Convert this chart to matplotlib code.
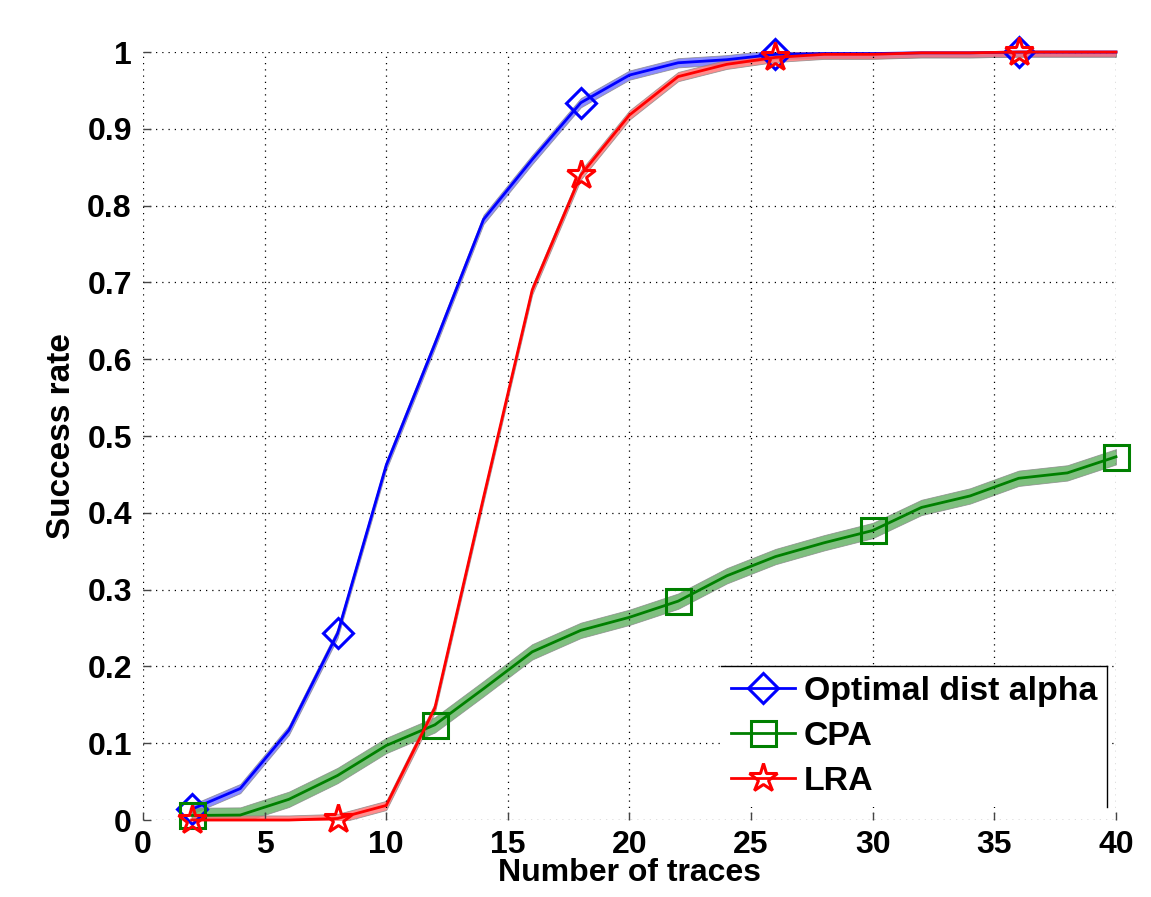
import numpy as np
import matplotlib
matplotlib.use("Agg")
import matplotlib.pyplot as plt
from matplotlib.lines import Line2D

plt.rcParams['font.family'] = ['Liberation Sans', 'DejaVu Sans']
plt.rcParams['font.weight'] = 'bold'

# data
traces = [2, 4, 6, 8, 10, 12, 14, 16, 18, 20, 22, 24, 26, 28, 30, 32, 34, 36, 38, 40]
opt_alpha = [0.014, 0.041, 0.117, 0.243, 0.462, 0.62, 0.782, 0.86, 0.934, 0.97,
             0.986, 0.99, 0.997, 0.998, 0.998, 0.999, 0.999, 1.0, 1.0, 1.0]
cpa = [0.006, 0.0065, 0.027, 0.058, 0.097, 0.124, 0.171, 0.219, 0.247, 0.264,
       0.285, 0.318, 0.343, 0.361, 0.377, 0.407, 0.422, 0.445, 0.452, 0.473]
lra = [0.0, 0.0, 0.0, 0.002, 0.019, 0.146, 0.42, 0.69, 0.84, 0.918,
       0.968, 0.984, 0.993, 0.997, 0.997, 0.999, 0.999, 1.0, 1.0, 1.0]
labels = ['Optimal dist alpha', 'CPA', 'LRA']

fig = plt.figure(figsize=(11.51, 8.97), dpi=100)
ax = fig.add_axes([0.1242, 0.0858, 0.8454, 0.8562])

x = np.array(traces)
series = [
    (np.array(opt_alpha), '#0000ff', '#7070ff', 'D', 15.5, [0, 3, 8, 12, 17], 0.006),
    (np.array(cpa), '#008000', '#60b060', 's', 18, [0, 5, 10, 14, 19], 0.01),
    (np.array(lra), '#ff0000', '#ff7070', '*', 21, [0, 3, 8, 12, 17], 0.006),
]
handles = []
for (y, col, band, mk, ms, every, hw), lab in zip(series, labels):
    ax.fill_between(x, y - hw, y + hw, color=band, alpha=0.8, edgecolor='#888888', lw=0.6)
    h, = ax.plot(x, y, color=col, lw=2.0, marker=mk, markersize=ms, markevery=every,
                 markerfacecolor='none', markeredgecolor=col, markeredgewidth=2.2,
                 clip_on=False, label=lab)
    handles.append(h)

ax.set_xlim(0, 40)
ax.set_ylim(0, 1)
ax.set_xticks(range(0, 41, 5))
ax.set_yticks(np.arange(0, 1.01, 0.1))
ax.set_yticklabels(['0', '0.1', '0.2', '0.3', '0.4', '0.5', '0.6', '0.7', '0.8', '0.9', '1'])
ax.grid(True, color='black', linestyle=(0, (1, 4)), lw=0.9)
for s in ax.spines.values():
    s.set_visible(False)
ax.tick_params(direction='in', length=6, width=1, color='#444444', labelsize=23, pad=8)
ax.tick_params(axis='x', pad=7)

ax.set_xlabel('Number of traces', fontsize=23, fontweight='bold', va='top')
ax.xaxis.set_label_coords(0.5, -0.049)
ax.set_ylabel('Success rate', fontsize=24, fontweight='bold')
ax.yaxis.set_label_coords(-0.068, 0.5)

leg = ax.legend(handles=handles, loc='upper right', bbox_to_anchor=(0.991, 0.2005),
                borderaxespad=0, prop={'size': 24.4, 'weight': 'bold'},
                handlelength=1.9, handletextpad=0.25, borderpad=0.3, labelspacing=0.41,
                fancybox=False, framealpha=1)
leg.get_frame().set_edgecolor('none')
leg.set_zorder(5)

# legend box only shows its top and right edges
fig.canvas.draw()
bb = leg.get_window_extent().transformed(fig.transFigure.inverted())
fig.add_artist(Line2D([bb.x0, bb.x1], [bb.y1, bb.y1], color='black', lw=1))
fig.add_artist(Line2D([bb.x1, bb.x1], [bb.y0, bb.y1], color='black', lw=1))

fig.savefig('out.png', dpi=100)
